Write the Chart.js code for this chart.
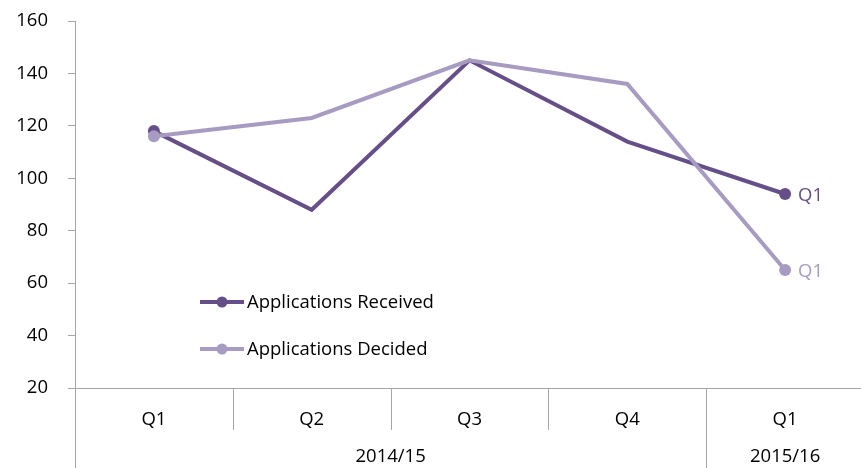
<!DOCTYPE html>
<html>
<head>
<meta charset="utf-8">
<script src="https://cdn.jsdelivr.net/npm/chart.js@4"></script>
<style>
  html, body { margin: 0; padding: 0; background: #fff; overflow: hidden; }
  #wrap { width: 861px; height: 468px; overflow: hidden; }
</style>
</head>
<body>
<div id="wrap"><canvas id="chart" width="870" height="468"></canvas></div>
<script>
// data
const quarters = ['Q1', 'Q2', 'Q3', 'Q4', 'Q1'];
const years = ['2014/15', '2014/15', '2014/15', '2014/15', '2015/16'];
const received = [118, 88, 145, 114, 94];
const decided = [116, 123, 145, 136, 65];
const seriesNames = ['Applications Received', 'Applications Decided'];

const darkPurple = '#664f88';
const lightPurple = '#a89bc2';
const axisGrey = '#a6a6a6';
const fontFamily = '"Open Sans", Lato, sans-serif';
const fontSize = 18.5;

// multi-level axis, in-plot legend and end labels
const extrasPlugin = {
    id: 'extras',
    afterDraw(chart) {
        const ctx = chart.ctx;
        const x = chart.scales.x;
        const area = chart.chartArea;
        const half = (x.getPixelForValue(1) - x.getPixelForValue(0)) / 2;

        ctx.save();
        ctx.strokeStyle = axisGrey;
        ctx.lineWidth = 1;
        for (let i = 0; i <= quarters.length; i++) {
            const px = Math.round(x.getPixelForValue(i) - half) + 0.5;
            const groupEdge = i === 0 || i === quarters.length || years[i] !== years[i - 1];
            ctx.beginPath();
            ctx.moveTo(px, area.bottom);
            ctx.lineTo(px, groupEdge ? chart.height : area.bottom + 42);
            ctx.stroke();
        }

        // year labels centred on their groups
        ctx.fillStyle = '#000';
        ctx.font = fontSize + 'px ' + fontFamily;
        ctx.textAlign = 'center';
        ctx.textBaseline = 'middle';
        let start = 0;
        for (let i = 1; i <= years.length; i++) {
            if (i === years.length || years[i] !== years[start]) {
                const left = x.getPixelForValue(start) - half;
                const right = x.getPixelForValue(i - 1) + half;
                ctx.fillText(years[start], (left + right) / 2, 457);
                start = i;
            }
        }

        // end labels next to the last points
        ctx.textAlign = 'left';
        chart.data.datasets.forEach((ds, d) => {
            const meta = chart.getDatasetMeta(d);
            const pt = meta.data[meta.data.length - 1];
            ctx.fillStyle = ds.borderColor;
            ctx.fillText(quarters[quarters.length - 1], pt.x + 13, pt.y + 2);
        });

        // legend inside the plot
        const legendY = [302, 349];
        chart.data.datasets.forEach((ds, d) => {
            const y = legendY[d];
            ctx.strokeStyle = ds.borderColor;
            ctx.lineWidth = 4;
            ctx.beginPath();
            ctx.moveTo(200, y);
            ctx.lineTo(244, y);
            ctx.stroke();
            ctx.fillStyle = ds.borderColor;
            ctx.beginPath();
            ctx.arc(222, y, 5.5, 0, Math.PI * 2);
            ctx.fill();
            ctx.fillStyle = '#000';
            ctx.fillText(ds.label, 247, y + 1);
        });
        ctx.restore();
    }
};

new Chart(document.getElementById('chart').getContext('2d'), {
    type: 'line',
    data: {
        labels: quarters,
        datasets: [{
            label: seriesNames[0],
            data: received,
            borderColor: darkPurple,
            backgroundColor: darkPurple,
            borderWidth: 4,
            pointRadius: [6, 0, 0, 0, 6],
            pointBorderWidth: 0,
            tension: 0,
            order: 1
        }, {
            label: seriesNames[1],
            data: decided,
            borderColor: lightPurple,
            backgroundColor: lightPurple,
            borderWidth: 4,
            pointRadius: [6, 0, 0, 0, 6],
            pointBorderWidth: 0,
            tension: 0,
            order: 0
        }]
    },
    options: {
        responsive: false,
        animation: false,
        layout: { padding: { top: 21, right: 4, bottom: 0, left: 0 } },
        plugins: {
            legend: { display: false },
            tooltip: { enabled: false }
        },
        scales: {
            x: {
                offset: true,
                grid: { display: false },
                border: { color: axisGrey, width: 1 },
                ticks: {
                    color: '#000',
                    padding: 13,
                    font: { family: fontFamily, size: fontSize }
                },
                afterFit(scale) {
                    scale.height = 80;
                    scale.paddingLeft = 0;
                    scale.paddingRight = 0;
                }
            },
            y: {
                min: 20,
                max: 160,
                ticks: {
                    stepSize: 20,
                    color: '#000',
                    padding: 20,
                    font: { family: fontFamily, size: fontSize }
                },
                grid: { drawOnChartArea: false, tickLength: 7, color: axisGrey },
                border: { color: axisGrey, width: 1 },
                afterFit(scale) {
                    scale.width = 75;
                    scale.paddingTop = 0;
                    scale.paddingBottom = 0;
                }
            }
        }
    },
    plugins: [extrasPlugin]
});
</script>
</body>
</html>
